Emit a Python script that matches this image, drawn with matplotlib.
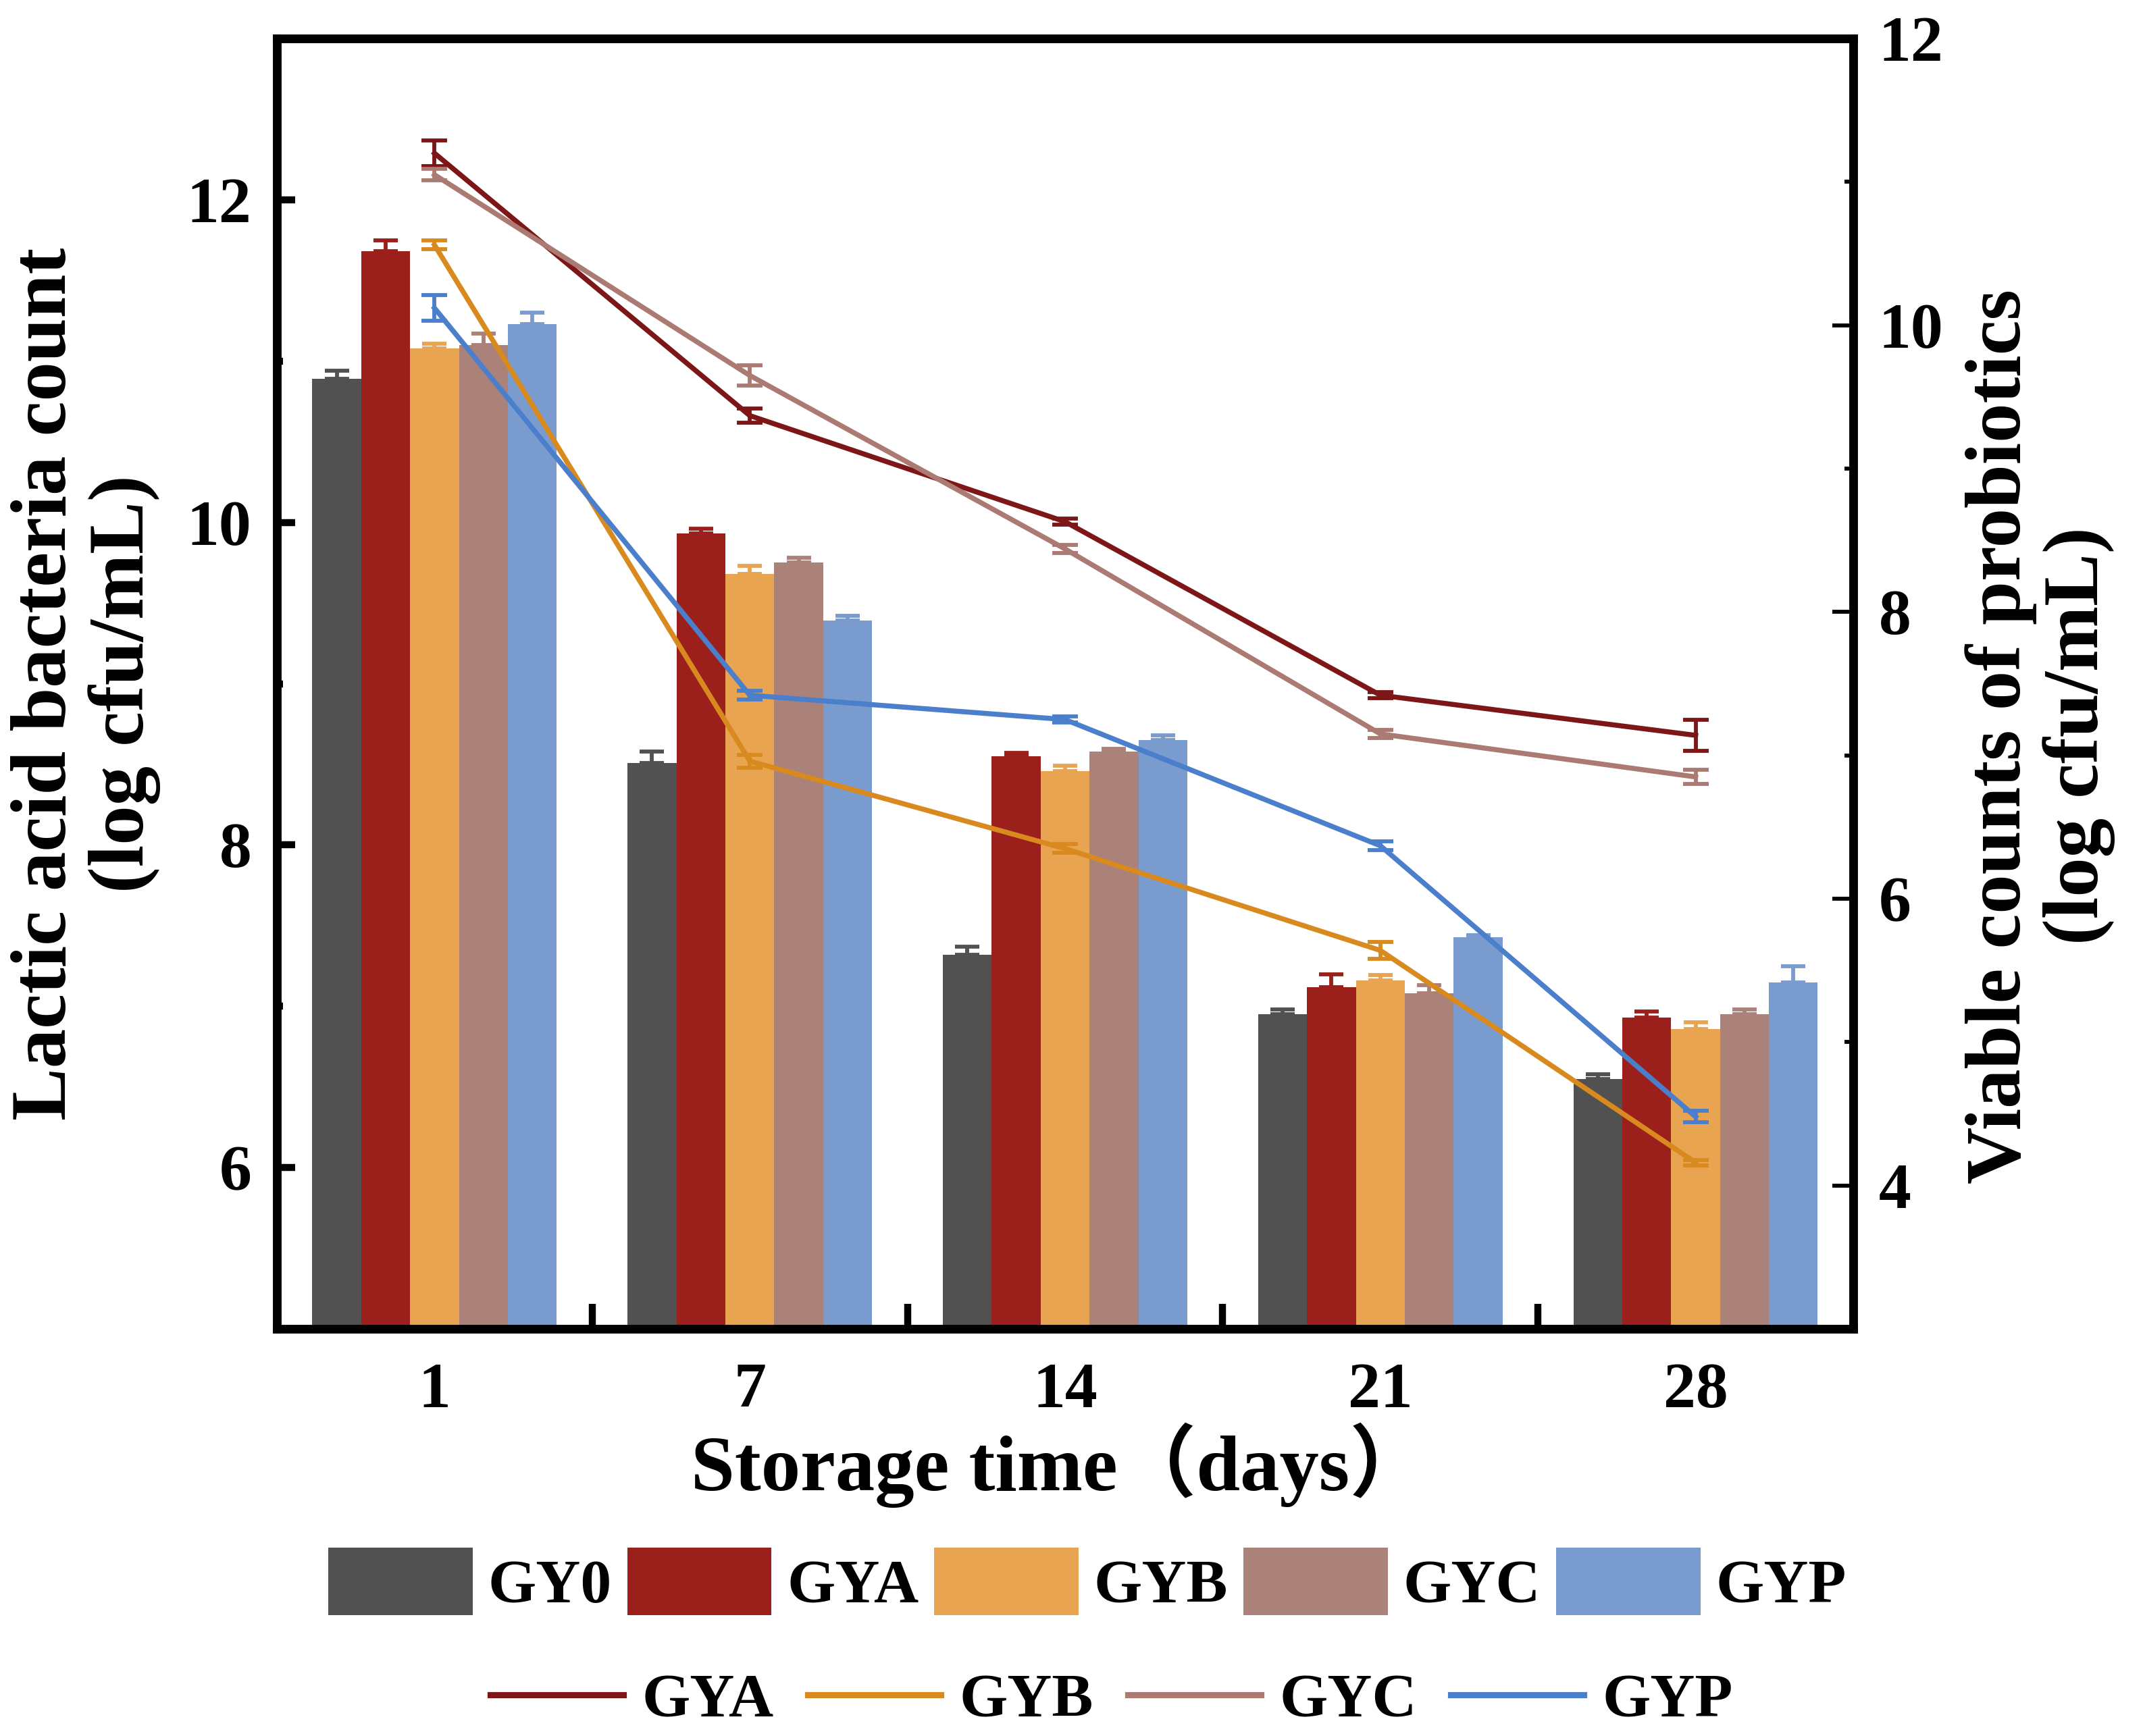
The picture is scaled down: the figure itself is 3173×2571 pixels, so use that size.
import matplotlib
matplotlib.use("Agg")
import matplotlib.pyplot as plt
import numpy as np
from matplotlib.patches import Patch
from matplotlib.lines import Line2D
from matplotlib.ticker import FixedLocator

plt.rcParams["font.family"] = ["Liberation Serif", "Noto Sans CJK SC"]
plt.rcParams["font.weight"] = "bold"

# Data
days = ["1", "7", "14", "21", "28"]
bar_names = ["GY0", "GYA", "GYB", "GYC", "GYP"]

# lactic acid bacteria count (left axis, bars)
lab_gy0 = [10.89, 8.51, 7.32, 6.95, 6.55]
lab_gya = [11.68, 9.93, 8.55, 7.12, 6.93]
lab_gyb = [11.08, 9.68, 8.46, 7.16, 6.86]
lab_gyc = [11.10, 9.75, 8.58, 7.08, 6.95]
lab_gyp = [11.23, 9.39, 8.65, 7.43, 7.15]

lab_err_gy0 = [0.05, 0.07, 0.05, 0.03, 0.03]
lab_err_gya = [0.07, 0.03, 0.02, 0.08, 0.04]
lab_err_gyb = [0.03, 0.05, 0.03, 0.035, 0.04]
lab_err_gyc = [0.07, 0.03, 0.015, 0.05, 0.03]
lab_err_gyp = [0.07, 0.03, 0.03, 0.01, 0.10]

# viable counts of probiotics (right axis, lines)
line_names = ["GYA", "GYB", "GYC", "GYP"]
pro_gya = [11.20, 9.37, 8.63, 7.42, 7.14]
pro_gyb = [10.56, 6.96, 6.35, 5.64, 4.16]
pro_gyc = [11.05, 9.65, 8.44, 7.15, 6.85]
pro_gyp = [10.12, 7.42, 7.25, 6.37, 4.48]

pro_err_gya = [0.09, 0.05, 0.02, 0.02, 0.11]
pro_err_gyb = [0.03, 0.045, 0.03, 0.06, 0.02]
pro_err_gyc = [0.04, 0.07, 0.03, 0.03, 0.05]
pro_err_gyp = [0.09, 0.03, 0.02, 0.03, 0.04]

bar_colors = ["#515151", "#9b1f1a", "#e8a451", "#aa827a", "#7a9bce"]
line_colors = ["#7d1617", "#d98a1f", "#ab7a72", "#4c7fcb"]

bar_vals = [lab_gy0, lab_gya, lab_gyb, lab_gyc, lab_gyp]
bar_errs = [lab_err_gy0, lab_err_gya, lab_err_gyb, lab_err_gyc, lab_err_gyp]
line_vals = [pro_gya, pro_gyb, pro_gyc, pro_gyp]
line_errs = [pro_err_gya, pro_err_gyb, pro_err_gyc, pro_err_gyp]

fig = plt.figure(figsize=(3173 / 300, 2571 / 300), dpi=300)
ax = fig.add_axes([0.1292, 0.2345, 0.7356, 0.7433])
ax2 = ax.twinx()

x = np.arange(len(days))
width = 0.155

for i, (vals, errs, c) in enumerate(zip(bar_vals, bar_errs, bar_colors)):
    pos = x + (i - 2) * width
    ax.bar(pos, vals, width, color=c, zorder=2)
    ax.errorbar(pos, vals, yerr=[np.zeros(len(errs)), errs], fmt="none",
                ecolor=c, elinewidth=1.4, capsize=4.3, capthick=1.4, zorder=3)

for vals, errs, c in zip(line_vals, line_errs, line_colors):
    ax2.errorbar(x, vals, yerr=errs, color=c, lw=1.8, elinewidth=1.4,
                 capsize=4.5, capthick=1.4)

# axes styling
ax.set_xlim(-0.5, 4.5)
ax.set_ylim(5, 13)
ax2.set_ylim(3, 12)

ax.xaxis.set_major_locator(FixedLocator(x))
ax.set_xticklabels(days)
ax.xaxis.set_minor_locator(FixedLocator(x[:-1] + 0.5))
ax.tick_params(axis="x", which="major", length=0, pad=12, labelsize=23)
ax.tick_params(axis="x", which="minor", direction="in", length=9, width=2.5)

ax.yaxis.set_major_locator(FixedLocator([6, 8, 10, 12]))
ax.yaxis.set_minor_locator(FixedLocator([7, 9, 11]))
ax.tick_params(axis="y", which="major", direction="in", length=6.5, width=2.5,
               pad=9, labelsize=23)
ax.tick_params(axis="y", which="minor", direction="in", length=2.2, width=2.5)

ax2.yaxis.set_major_locator(FixedLocator([4, 6, 8, 10, 12]))
ax2.yaxis.set_minor_locator(FixedLocator([5, 7, 9, 11]))
ax2.tick_params(axis="y", which="major", direction="in", length=7.5, width=1.4,
                pad=9, labelsize=23)
ax2.tick_params(axis="y", which="minor", direction="in", length=3.2, width=1.4)

for a in (ax, ax2):
    for s in a.spines.values():
        s.set_linewidth(3.0)

fig.text(0.040, 0.606, "Lactic acid bacteria count\n(log cfu/mL)", rotation=90,
         ha="center", va="center", fontsize=28, linespacing=1.1)
fig.text(0.952, 0.576, "Viable counts of probiotics\n(log cfu/mL)", rotation=90,
         ha="center", va="center", fontsize=28, linespacing=1.1)
fig.text(0.4945, 1 - 2170 / 2571, "Storage time（days）", ha="center",
         va="center", fontsize=28)

# legends
bar_handles = [Patch(facecolor=c, edgecolor="none") for c in bar_colors]
fig.legend(bar_handles, bar_names, loc="center", bbox_to_anchor=(0.5074, 0.0891),
           ncol=5, frameon=False, fontsize=22, handlelength=2.33,
           handleheight=1.3, handletextpad=0.25, columnspacing=0.25,
           borderpad=0, borderaxespad=0)

line_handles = [Line2D([0], [0], color=c, lw=2.2) for c in line_colors]
fig.legend(line_handles, line_names, loc="center", bbox_to_anchor=(0.5188, 0.0202),
           ncol=4, frameon=False, fontsize=22, handlelength=2.15,
           handletextpad=0.3, columnspacing=0.55, borderpad=0, borderaxespad=0)

fig.savefig("out.png", dpi=300)
